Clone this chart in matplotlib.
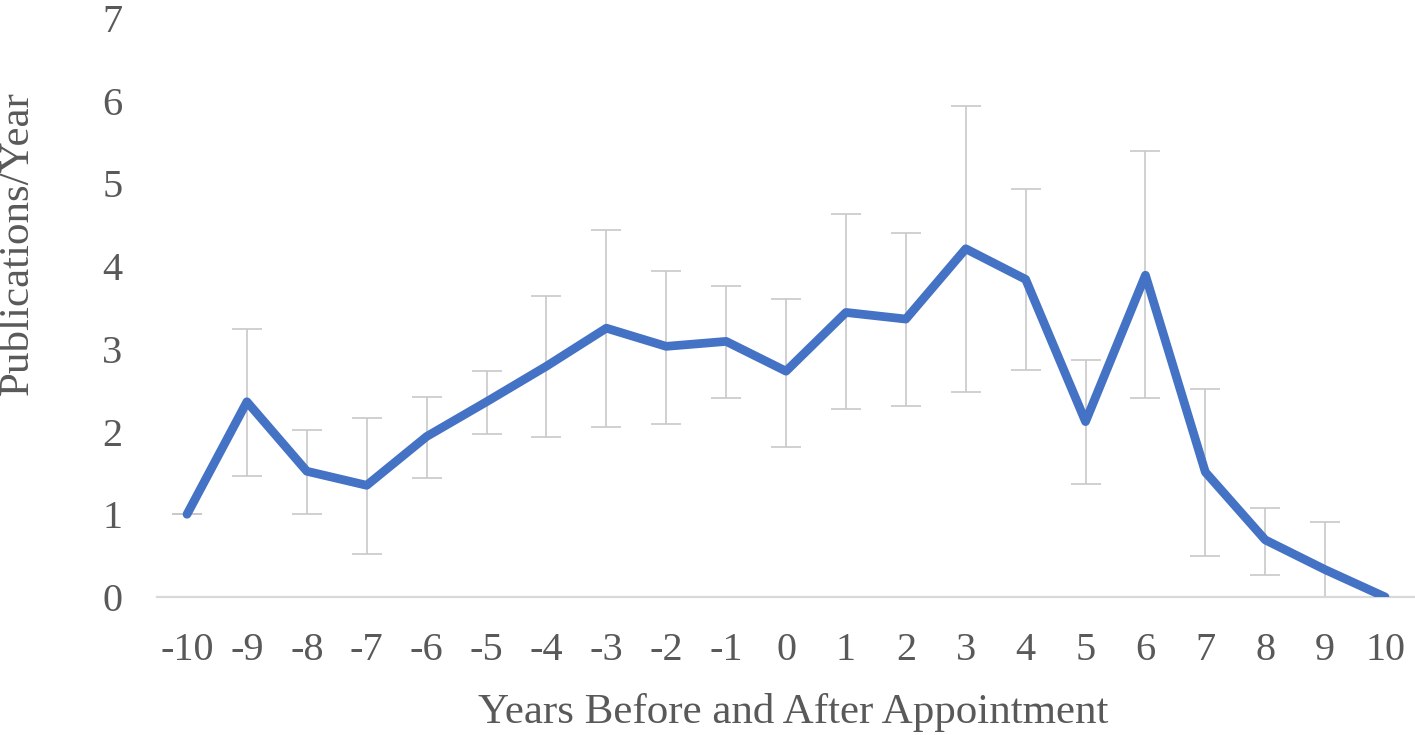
import numpy as np
import matplotlib.pyplot as plt

# publications per year around the appointment year, with error bar ends
years = [-10, -9, -8, -7, -6, -5, -4, -3, -2, -1, 0, 1, 2, 3, 4, 5, 6, 7, 8, 9, 10]
pubs = [1.00, 2.36, 1.52, 1.35, 1.94, 2.36, 2.79, 3.25, 3.03, 3.09, 2.73,
        3.44, 3.36, 4.21, 3.84, 2.12, 3.89, 1.51, 0.69, 0.33, 0.00]
err_hi = [1.00, 3.24, 2.02, 2.16, 2.42, 2.73, 3.64, 4.44, 3.94, 3.76, 3.60,
          4.63, 4.40, 5.94, 4.93, 2.87, 5.39, 2.51, 1.08, 0.91, 0.00]
err_lo = [1.00, 1.46, 1.00, 0.52, 1.44, 1.97, 1.93, 2.06, 2.09, 2.41, 1.81,
          2.27, 2.31, 2.48, 2.75, 1.36, 2.40, 0.50, 0.26, 0.00, 0.00]
tick_labels = [str(y) for y in years]

plt.rcParams['font.family'] = ['Liberation Serif', 'DejaVu Serif']
txt = '#595959'

fig = plt.figure(figsize=(14.15, 7.35), dpi=100)
ax = fig.add_axes([0.111, 0.1878, 0.889, 0.7877])

pubs = np.array(pubs)
yerr = [pubs - np.array(err_lo), np.array(err_hi) - pubs]
ax.errorbar(years, pubs, yerr=yerr, fmt='none', ecolor='#C8C8C8',
            elinewidth=1.2, capsize=11, capthick=1.2, zorder=2)
ax.plot(years, pubs, color='#4472C4', lw=6.3, solid_joinstyle='round',
        solid_capstyle='round', zorder=3)

ax.set_xlim(-10.5, 10.5)
ax.set_ylim(0, 7)
ax.set_xticks(years)
ax.set_xticklabels(tick_labels)
ax.set_yticks(range(8))
ax.tick_params(length=0, labelsize=29, colors=txt, pad=25)
for s in ['top', 'right', 'left']:
    ax.spines[s].set_visible(False)
ax.spines['bottom'].set_color('#D9D9D9')
ax.spines['bottom'].set_linewidth(1.6)

xl = ax.set_xlabel('Years Before and After Appointment', fontsize=31, color=txt)
yl = ax.set_ylabel('Publications/Year', fontsize=31, color=txt)
ax.xaxis.set_label_coords(0.5056, -0.200)
ax.yaxis.set_label_coords(-0.111, 0.611)
xl.set_va('center')
yl.set_va('center')
yl.set_ha('center')

fig.savefig('out.png', dpi=100)
